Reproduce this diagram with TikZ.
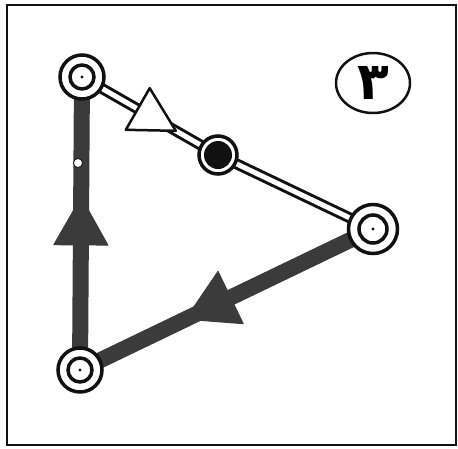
\documentclass[tikz,border=0pt]{standalone}
\usepackage{fontspec}
\newfontfamily\arabicfont[Script=Arabic]{DejaVu Sans}
\TeXXeTstate=1
\usepackage{tikz}
\usetikzlibrary{calc,backgrounds,shapes.geometric}
\definecolor{loopink}{HTML}{111111}
\definecolor{loopbar}{HTML}{3B3B3B}
\tikzset{
  ring/.style 2 args={circle, draw=loopink, line width=3.5pt, fill=white, minimum size=#1, inner sep=0pt,
    path picture={\draw[loopink, line width=3.5pt] (path picture bounding box.center) circle (#2);
      \fill[loopink] (path picture bounding box.center) circle (1.6pt);}},
  hub/.style={circle, draw=loopink, line width=3.5pt, fill=white, minimum size=#1, inner sep=0pt,
    path picture={\fill[loopink] (path picture bounding box.center) circle (14pt);}},
  hollow/.style={draw=loopink, line width=3pt, double=white, double distance=5pt},
  solid/.style={draw=loopbar, line width=16pt},
  hollowhead/.style={fill=white, draw=loopink, line width=2.5pt, line join=round},
  solidhead/.style={fill=loopbar, draw=loopbar, line width=1pt, line join=round},
}

\begin{document}
\begin{tikzpicture}[x=1pt,y=-1pt]
  \useasboundingbox (0,0) rectangle (458,448);
  \draw[loopink, line width=1.2pt] (7,5) rectangle (456,445);
  % junctions of the loop
  \node[ring={44pt}{12pt}] (A) at (82,77) {};
  \node[hub=38pt] (B) at (218,155) {};
  \node[ring={49pt}{14pt}] (C) at (373,229) {};
  \node[ring={44pt}{12pt}] (D) at (80,370) {};
  \node[ellipse, draw=loopink, line width=2.5pt, minimum width=74pt, minimum height=60pt, inner sep=0pt] (num)
    at (373,83) {\arabicfont\bfseries\fontsize{52}{52}\selectfont\beginR ۳\endR};
  \begin{scope}[on background layer]
    \draw[hollow] (A.center) -- (B.center);
    \draw[hollow] (B.center) -- (C.center);
    \draw[solid] (C.center) -- (D.center);
    \draw[solid] (D.center) -- (A.center);
    % arrow heads: from/to/base/tip/half width/style
    \foreach \p/\q/\s/\e/\w/\h in {A/B/0.41/0.69/24/hollowhead, C/D/0.486/0.64/29/solidhead, D/A/0.427/0.59/27/solidhead}
      { \coordinate (b) at ($(\p)!\s!(\q)$); \coordinate (t) at ($(\p)!\e!(\q)$);
        \draw[\h] ($(b)!\w pt!90:(t)$) -- (t) -- ($(b)!\w pt!-90:(t)$) -- cycle; }
  \end{scope}
  \node[circle, fill=white, draw=loopink, line width=0.8pt, inner sep=0pt, minimum size=9pt] (nick) at (78,163) {};
\end{tikzpicture}
\end{document}
